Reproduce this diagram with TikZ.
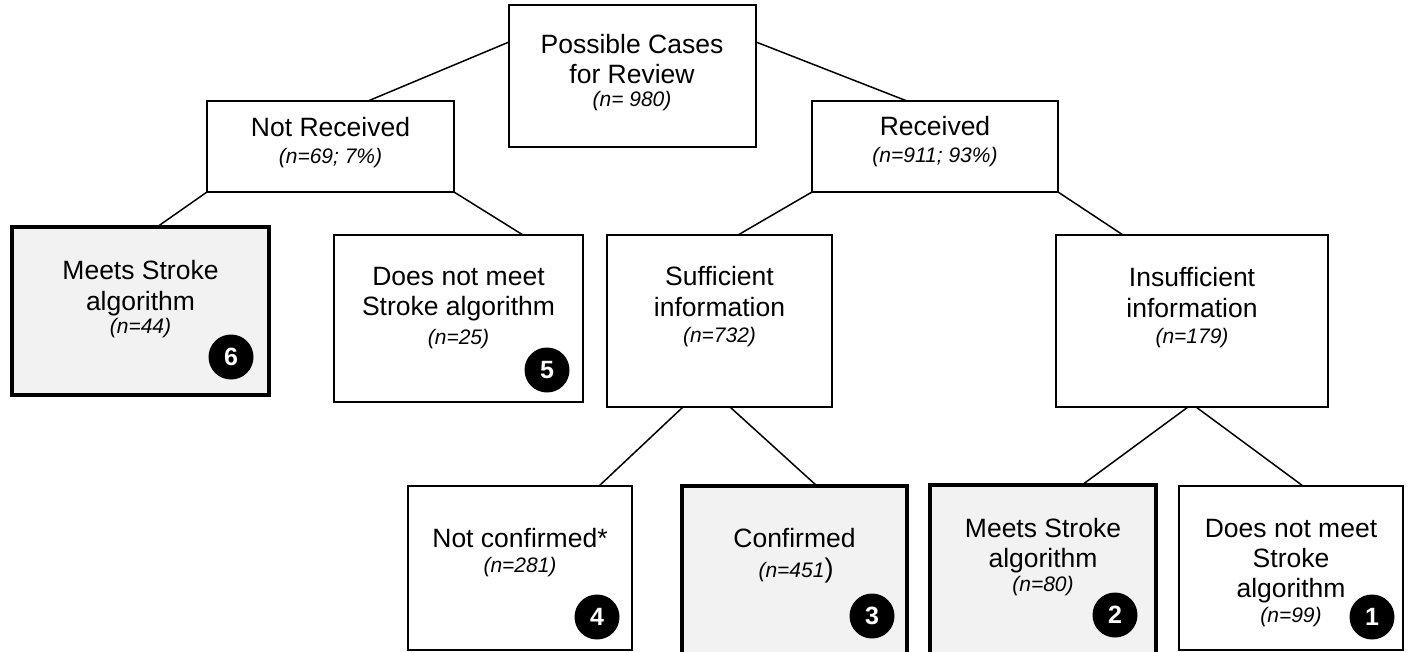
\documentclass[tikz,border=0pt]{standalone}
\usepackage{fontspec}
\setmainfont{Liberation Sans}
\definecolor{boxgray}{HTML}{F2F2F2}
\begin{document}
\begin{tikzpicture}[x=1pt,y=-1pt,
  box/.style={draw, line width=1.6pt, fill=white, inner sep=0pt, outer sep=0pt, anchor=north west},
  hbox/.style={box, line width=3.6pt, fill=boxgray},
  conn/.style={line width=1.5pt},
  ml/.style={anchor=base, font=\fontsize{26.5}{30}\selectfont, inner sep=0pt},
  nl/.style={anchor=base, font=\fontsize{21}{24}\selectfont\itshape, inner sep=0pt},
  num/.style={circle, fill=black, minimum size=45pt, inner sep=0pt, text=white, font=\fontsize{25}{25}\selectfont\bfseries}]
\useasboundingbox (0,0) rectangle (1410,651);
% boxes
\node[box, minimum width=247pt, minimum height=142pt] (top) at (509,5) {};
\node[box, minimum width=247pt, minimum height=91pt] (nrec) at (207,101) {};
\node[box, minimum width=246pt, minimum height=91pt] (rec) at (812,101) {};
\node[hbox, minimum width=257pt, minimum height=168pt] (m44) at (12,227) {};
\node[box, minimum width=249pt, minimum height=167pt] (n25) at (334,235) {};
\node[box, minimum width=225pt, minimum height=172pt] (suf) at (607,235) {};
\node[box, minimum width=272pt, minimum height=172pt] (ins) at (1056,235) {};
\node[box, minimum width=224pt, minimum height=164pt] (ncf) at (408,486) {};
\node[hbox, minimum width=225pt, minimum height=168pt] (cf) at (682,486) {};
\node[hbox, minimum width=226pt, minimum height=169pt] (m80) at (930,485) {};
\node[box, minimum width=224pt, minimum height=164pt] (n99) at (1179,486) {};
% connectors
\draw[conn] ([yshift=-37pt]top.north west) -- ([xshift=37.5pt]nrec.north);
\draw[conn] ([yshift=-37pt]top.north east) -- ([xshift=-28pt]rec.north);
\draw[conn] (nrec.south west) -- ([xshift=16.5pt]m44.north);
\draw[conn] (nrec.south east) -- ([xshift=64.5pt]n25.north);
\draw[conn] (rec.south west) -- ([xshift=18.5pt]suf.north);
\draw[conn] (rec.south east) -- ([xshift=-69pt]ins.north);
\draw[conn] ([xshift=-36.5pt]suf.south) -- ([xshift=79pt]ncf.north);
\draw[conn] ([xshift=10.5pt]suf.south) -- ([xshift=22.5pt]cf.north);
\draw[conn] ([xshift=-4pt]ins.south) -- ([xshift=39pt]m80.north);
\draw[conn] ([xshift=4pt]ins.south) -- ([xshift=12pt]n99.north);
% texts
\node[ml] (t1a) at (632,53) {Possible Cases};
\node[ml] (t1b) at (632,83) {for Review};
\node[nl] (t1c) at (632,106) {(n= 980)};
\node[ml] (t2a) at (330.5,136) {Not Received};
\node[nl] (t2b) at (330.5,163) {(n=69; 7\%)};
\node[ml] (t3a) at (935,135) {Received};
\node[nl] (t3b) at (935,162) {(n=911; 93\%)};
\node[ml] (t4a) at (140.5,279) {Meets Stroke};
\node[ml] (t4b) at (140.5,310) {algorithm};
\node[nl] (t4c) at (140.5,333) {(n=44)};
\node[ml] (t5a) at (458.5,285) {Does not meet};
\node[ml] (t5b) at (458.5,315) {Stroke algorithm};
\node[nl] (t5c) at (458.5,344) {(n=25)};
\node[ml] (t6a) at (719.5,285) {Sufficient};
\node[ml] (t6b) at (719.5,316) {information};
\node[nl] (t6c) at (719.5,342) {(n=732)};
\node[ml] (t7a) at (1192,286) {Insufficient};
\node[ml] (t7b) at (1192,317) {information};
\node[nl] (t7c) at (1192,343) {(n=179)};
\node[ml] (t8a) at (520,547) {Not confirmed*};
\node[nl] (t8b) at (520,572) {(n=281)};
\node[ml] (t9a) at (794.5,547) {Confirmed};
\node[nl] (t9b) at (796,577) {(n=451\/{\upshape\fontsize{27}{27}\selectfont)}};
\node[ml] (t10a) at (1043,537) {Meets Stroke};
\node[ml] (t10b) at (1043,567) {algorithm};
\node[nl] (t10c) at (1043,591) {(n=80)};
\node[ml] (t11a) at (1291,537) {Does not meet};
\node[ml] (t11b) at (1291,567) {Stroke};
\node[ml] (t11c) at (1291,597) {algorithm};
\node[nl] (t11d) at (1291,622) {(n=99)};
% numbered circles
\node[num] (c6) at (231,357) {6};
\node[num] (c5) at (547,370) {5};
\node[num] (c4) at (597,617) {4};
\node[num] (c3) at (872,616) {3};
\node[num] (c2) at (1115,615) {2};
\node[num] (c1) at (1372,617) {1};
\end{tikzpicture}
\end{document}
